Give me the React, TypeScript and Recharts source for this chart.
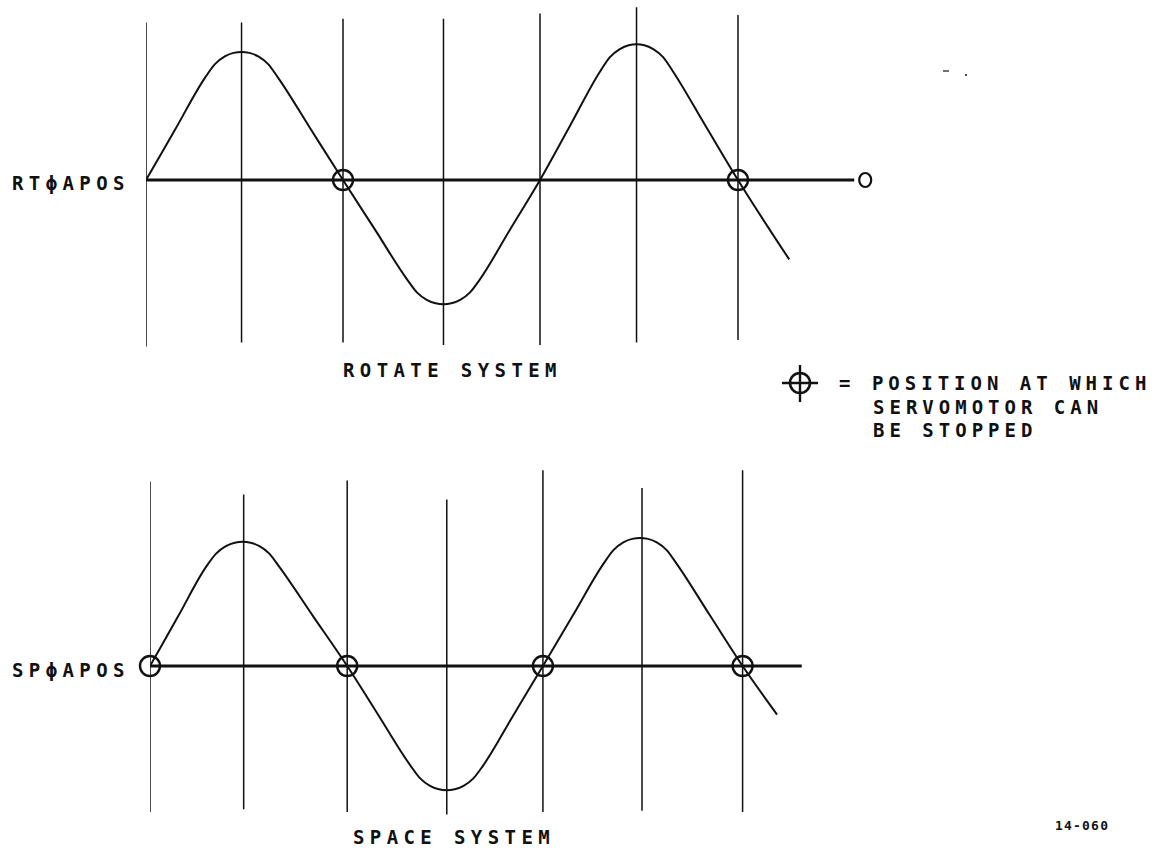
import React from "react";
import { ComposedChart, Line, XAxis, YAxis, ReferenceDot } from "recharts";

// ---------- ROTATE SYSTEM (top) ----------
const topPhase = [0, 0.3, 0.6, 0.7, 0.8, 0.89, 0.97, 1.05, 1.14, 1.24, 1.34, 1.67, 2.0, 2.325, 2.65, 2.75, 2.85, 2.94, 3.02, 3.1, 3.19, 3.29, 3.39, 3.695, 4.0, 4.305, 4.61, 4.71, 4.81, 4.9, 4.98, 5.06, 5.15, 5.25, 5.35, 5.68, 6.01, 6.53];
const topLevel = [0, 0.4, 0.8, 0.905, 0.965, 0.993, 1.0, 0.993, 0.965, 0.905, 0.8, 0.4, 0, -0.388, -0.776, -0.878, -0.936, -0.963, -0.97, -0.963, -0.936, -0.878, -0.776, -0.388, 0, 0.424, 0.848, 0.96, 1.023, 1.053, 1.06, 1.053, 1.023, 0.96, 0.848, 0.424, 0, -0.62];
const topGridX = [0, 0.97, 2.0, 3.02, 4.0, 4.98, 6.01];
const topGridTop = [1.23, 1.23, 1.26, 1.26, 1.3, 1.35, 1.29];
const topGridBottom = [-1.3, -1.27, -1.27, -1.29, -1.29, -1.27, -1.25];
const topAxisEnd = 7.19;
const topStops = [2.0, 6.01];

// ---------- SPACE SYSTEM (bottom) ----------
const botPhase = [0, 0.285, 0.57, 0.67, 0.77, 0.86, 0.94, 1.02, 1.11, 1.21, 1.31, 1.655, 2.0, 2.32, 2.64, 2.74, 2.84, 2.93, 3.01, 3.09, 3.18, 3.28, 3.38, 3.6825, 3.985, 4.2925, 4.6, 4.7, 4.8, 4.89, 4.97, 5.05, 5.14, 5.24, 5.34, 5.675, 6.01, 6.36];
const botLevel = [0, 0.388, 0.776, 0.878, 0.936, 0.963, 0.97, 0.963, 0.936, 0.878, 0.776, 0.388, 0, -0.388, -0.776, -0.878, -0.936, -0.963, -0.97, -0.963, -0.936, -0.878, -0.776, -0.388, 0, 0.4, 0.8, 0.905, 0.965, 0.993, 1.0, 0.993, 0.965, 0.905, 0.8, 0.4, 0, -0.38];
const botGridX = [0, 0.95, 2.0, 3.01, 3.985, 4.99, 6.01];
const botGridTop = [1.44, 1.34, 1.45, 1.3, 1.53, 1.39, 1.53];
const botGridBottom = [-1.14, -1.12, -1.14, -1.16, -1.14, -1.13, -1.14];
const botAxisEnd = 6.61;
const botStops = [0, 2.0, 3.985, 6.01];

// ---------- texts ----------
const topSignal = "RTϕAPOS";
const botSignal = "SPϕAPOS";
const topTitle = "ROTATE SYSTEM";
const botTitle = "SPACE SYSTEM";
const legendLines = ["= POSITION AT WHICH", "SERVOMOTOR CAN", "BE STOPPED"];
const figureId = "14-060";

const INK = "#111";
const W = 1164;
const H = 848;

const toSeries = (xs: number[], ys: number[]) => xs.map((u, i) => ({ u, v: ys[i] }));

type PanelProps = {
  phase: number[];
  level: number[];
  gridX: number[];
  gridTop: number[];
  gridBottom: number[];
  axisEnd: number;
  stops: number[];
  yDomain: [number, number];
  margin: { top: number; right: number; bottom: number; left: number };
  endMarker?: boolean;
};

const StopCircle = (props: any) => {
  const { cx, cy } = props;
  if (cx == null || cy == null) return null;
  return <circle cx={cx} cy={cy} r={10} fill="none" stroke={INK} strokeWidth={2.4} />;
};

const EndCircle = (props: any) => {
  const { cx, cy } = props;
  if (cx == null || cy == null) return null;
  return <ellipse cx={cx + 11} cy={cy} rx={6} ry={7} fill="none" stroke={INK} strokeWidth={2.2} />;
};

function Panel(p: PanelProps) {
  const wave = toSeries(p.phase, p.level);
  const axisLine = [
    { u: 0, v: 0 },
    { u: p.axisEnd, v: 0 },
  ];
  return (
    <div style={{ position: "absolute", left: 0, top: 0 }}>
      <ComposedChart width={W} height={H} margin={p.margin}>
        <XAxis type="number" dataKey="u" domain={[0, 10]} allowDataOverflow hide />
        <YAxis type="number" dataKey="v" domain={p.yDomain} allowDataOverflow hide width={0} />
        {p.gridX.map((gx, i) => (
          <Line
            key={"g" + i}
            data={[
              { u: gx, v: p.gridBottom[i] },
              { u: gx, v: p.gridTop[i] },
            ]}
            dataKey="v"
            type="linear"
            stroke={INK}
            strokeWidth={1.5}
            dot={false}
            activeDot={false}
            isAnimationActive={false}
          />
        ))}
        <Line
          data={axisLine}
          dataKey="v"
          type="linear"
          stroke={INK}
          strokeWidth={3}
          dot={false}
          activeDot={false}
          isAnimationActive={false}
        />
        <Line
          data={wave}
          dataKey="v"
          type="monotone"
          stroke={INK}
          strokeWidth={2}
          dot={false}
          activeDot={false}
          isAnimationActive={false}
        />
        {p.stops.map((s, i) => (
          <ReferenceDot key={"s" + i} x={s} y={0} r={10} shape={StopCircle} ifOverflow="visible" />
        ))}
        {p.endMarker ? (
          <ReferenceDot x={p.axisEnd} y={0} r={6} shape={EndCircle} ifOverflow="visible" />
        ) : null}
      </ComposedChart>
    </div>
  );
}

const textStyle: React.CSSProperties = {
  fontFamily: "'DejaVu Sans Mono', monospace",
  fontSize: 19,
  fontWeight: "bold",
  letterSpacing: 5.4,
  fill: INK,
};

function Annotations() {
  return (
    <svg width={W} height={H} style={{ position: "absolute", left: 0, top: 0 }}>
      <text x={12} y={190} style={textStyle}>{topSignal}</text>
      <text x={12} y={677} style={textStyle}>{botSignal}</text>
      <text x={343} y={377} style={textStyle}>{topTitle}</text>
      <text x={353} y={844} style={textStyle}>{botTitle}</text>
      {/* legend symbol */}
      <g stroke={INK} fill="none">
        <circle cx={800} cy={383} r={10} strokeWidth={2.6} />
        <line x1={782} y1={383} x2={818} y2={383} strokeWidth={2.4} />
        <line x1={800} y1={365} x2={800} y2={402} strokeWidth={2.4} />
      </g>
      <text x={839} y={390} style={{ ...textStyle, letterSpacing: 5.0 }}>{legendLines[0]}</text>
      <text x={873} y={414} style={{ ...textStyle, letterSpacing: 5.0 }}>{legendLines[1]}</text>
      <text x={873} y={437} style={{ ...textStyle, letterSpacing: 5.0 }}>{legendLines[2]}</text>
      <text
        x={1055}
        y={830}
        style={{ fontFamily: "'DejaVu Sans Mono', monospace", fontSize: 13, fontWeight: "bold", letterSpacing: 1.2, fill: INK }}
      >
        {figureId}
      </text>
      {/* scan specks */}
      <line x1={943} y1={71} x2={949} y2={71} stroke={INK} strokeWidth={1.2} />
      <circle cx={966} cy={75} r={1} fill={INK} />
    </svg>
  );
}

export default function App() {
  return (
    <div style={{ position: "absolute", left: 0, top: 0, width: W, height: H, background: "#fff", overflow: "hidden" }}>
      <Panel
        phase={topPhase}
        level={topLevel}
        gridX={topGridX}
        gridTop={topGridTop}
        gridBottom={topGridBottom}
        axisEnd={topAxisEnd}
        stops={topStops}
        yDomain={[-2, 1.4]}
        margin={{ top: 0.8, right: 33, bottom: 412, left: 146 }}
        endMarker
      />
      <Panel
        phase={botPhase}
        level={botLevel}
        gridX={botGridX}
        gridTop={botGridTop}
        gridBottom={botGridBottom}
        axisEnd={botAxisEnd}
        stops={botStops}
        yDomain={[-1.4, 1.6]}
        margin={{ top: 461.2, right: 28, bottom: 2.8, left: 150 }}
      />
      <Annotations />
    </div>
  );
}
